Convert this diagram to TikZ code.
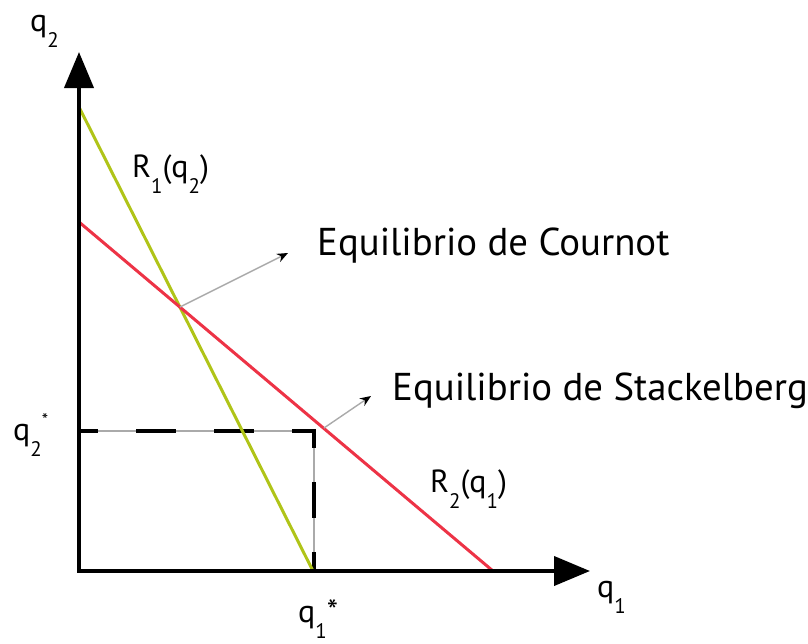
\documentclass[tikz,border=0pt]{standalone}
\usepackage{fontspec}
\setmainfont{PT Sans}
\usetikzlibrary{arrows.meta}
\definecolor{greenline}{RGB}{176,196,24}
\definecolor{redline}{RGB}{237,51,70}
\definecolor{thingray}{RGB}{170,170,170}
\newcommand{\lblfont}{\fontsize{32}{36}\selectfont}
\newcommand{\eqfont}{\fontsize{38.8}{44}\selectfont}
\newcommand{\sbs}[1]{\raisebox{-0.5em}{\fontsize{21}{21}\selectfont #1}}
\tikzset{
  axis/.style={line width=4pt, line join=miter},
  resp/.style={line width=3pt},
  guide/.style={thingray, line width=1.4pt},
  dashy/.style={black, line width=4pt},
  pointer/.style={thingray, line width=1.4pt, -{Stealth[black,length=11pt,width=9pt]}},
  lbl/.style={anchor=base west, inner sep=0pt, font=\lblfont},
  eqlbl/.style={anchor=base west, inner sep=0pt, font=\eqfont},
}
\begin{document}
\begin{tikzpicture}[x=1pt,y=-1pt]
\useasboundingbox (0,0) rectangle (808,643);
% key coordinates
\coordinate (O) at (79,571);
\coordinate (ytip) at (79,52);
\coordinate (xtip) at (590,571);
\coordinate (gA) at (79,107);
\coordinate (gB) at (313,571);
\coordinate (rA) at (79,222);
\coordinate (rB) at (493,571);
\coordinate (cour) at (180,307);
\coordinate (courT) at (288,253);
\coordinate (stack) at (324,428);
\coordinate (stackT) at (371,396);
\coordinate (qs2) at (79,431);
\coordinate (corner) at (314,431);
\coordinate (qs1) at (314,571);
% guide lines (thin)
\draw[guide] (qs2) -- (corner) -- (qs1);
% dashed overlays
\draw[dashy, dash pattern=on 40pt off 38pt, dash phase=21pt] (qs2) -- (316,431);
\draw[dashy, dash pattern=on 36pt off 34pt, dash phase=17pt] (314,429) -- (qs1);
% reaction lines
\draw[resp, greenline] (gA) -- (gB);
\draw[resp, redline] (rA) -- (rB);
% axes
\draw[axis, {Triangle[length=36pt,width=29pt]}-{Triangle[length=36pt,width=29pt]}] (ytip) -- (O) -- (xtip);
% pointers
\draw[pointer] (cour) -- (courT);
\draw[pointer] (stack) -- (stackT);
% labels
\node[lbl] (lq2) at (30,31) {q\sbs{2}};
\node[lbl] (lq1) at (597,597) {q\sbs{1}};
\node[lbl] (lR1) at (132,177) {R\sbs{1}(q\sbs{2})};
\node[lbl] (lR2) at (430,492) {R\sbs{2}(q\sbs{1})};
\node[lbl] (lq1s) at (298,622) {q\sbs{1}*};
\node[lbl] (lq2s) at (13,440) {q\sbs{2}\raisebox{14pt}{\fontsize{18}{18}\selectfont *}};
\node[eqlbl] (lcour) at (317,255) {Equilibrio de Cournot};
\node[eqlbl] (lstack) at (392,400) {Equilibrio de Stackelberg};
\end{tikzpicture}
\end{document}
